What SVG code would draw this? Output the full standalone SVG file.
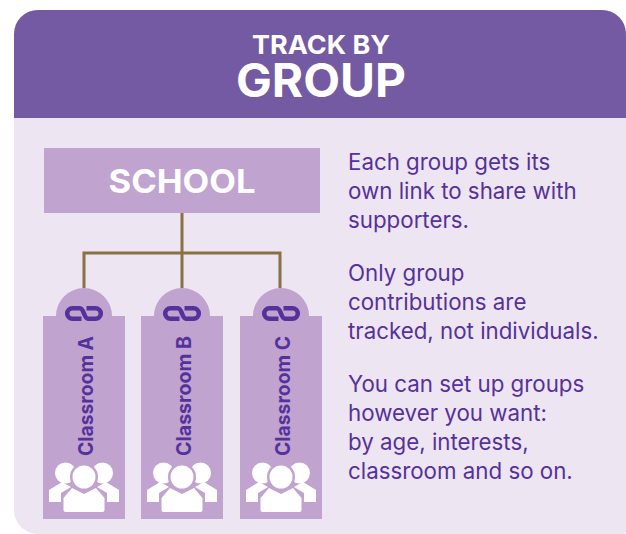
<svg xmlns="http://www.w3.org/2000/svg" width="626" height="534" viewBox="0 0 626 534">
<style>
.h{font-family:"Inter","Liberation Sans",sans-serif;font-weight:700;fill:#fff;text-anchor:middle}
.b{font-family:"Inter","Liberation Sans",sans-serif;font-size:22.300px;fill:#55329b}
.c{font-family:"Inter","Liberation Sans",sans-serif;font-weight:700;font-size:20px;fill:#55329b;text-anchor:middle}
.t{fill:#c0a3cf}
.w{fill:#fff}
.l{fill:none;stroke:#55329b;stroke-width:4.6}
.k{fill:none;stroke:#8a7145;stroke-width:3}
</style>
<defs>
<g id="link"><path class="l" d="M-2.500 5.300H-11.500A5.300 5.300 0 0 1 -11.500 -5.300H-4C0 -5.300 0 5.300 4 5.300H11.500A5.300 5.300 0 0 0 11.500 -5.300H2.500"/></g>
<g id="people">
<circle class="w" cx="-18.500" cy="-4" r="10.500"/><circle class="w" cx="18.500" cy="-4" r="10.500"/>
<path class="w" d="M-35 25V13L-22 5L-13 10L-23 16V25ZM35 25V13L22 5L13 10L23 16V25Z"/>
<circle class="t" cx="0" cy="0" r="14"/><circle class="w" cx="0" cy="0" r="11.500"/>
<path class="w" d="M-20.500 33V21L-12 11L0 17L12 11L20.500 21V33Q20.500 35 18.500 35H-18.500Q-20.500 35-20.500 33Z"/>
</g>
</defs>
<g id="panel"><path d="M14 510V34A24 24 0 0 1 38 10H602A24 24 0 0 1 626 34V531Q626 534 623 534H38A24 24 0 0 1 14 510Z" fill="#ede5f1"/>
<path d="M14 118V34A24 24 0 0 1 38 10H602A24 24 0 0 1 626 34V118Z" fill="#745aa2"/>
<text class="h" x="321" y="54" font-size="26" textLength="138" lengthAdjust="spacingAndGlyphs">TRACK BY</text>
<text class="h" x="321" y="97" font-size="46" textLength="170" lengthAdjust="spacingAndGlyphs">GROUP</text></g>
<g id="connectors"><path class="k" d="M182 213V288M84 288V253H280V288"/></g>
<g id="school"><rect class="t" x="44" y="148" width="276" height="65"/><text x="182" y="193" text-anchor="middle" font-family="Inter,sans-serif" font-weight="700" font-size="33" fill="#fff" textLength="147" lengthAdjust="spacingAndGlyphs">SCHOOL</text></g>
<g id="classroom-a"><path class="t" d="M43 316H56A28 28 0 0 1 112 316H125V519H43Z"/><use href="#link" x="84" y="313.500"/><text class="c" transform="translate(93 396) rotate(-90)" textLength="120" lengthAdjust="spacingAndGlyphs">Classroom A</text><use href="#people" x="84" y="477"/></g>
<g id="classroom-b"><path class="t" d="M141 316H154A28 28 0 0 1 210 316H223V519H141Z"/><use href="#link" x="182" y="313.500"/><text class="c" transform="translate(191 396) rotate(-90)" textLength="120" lengthAdjust="spacingAndGlyphs">Classroom B</text><use href="#people" x="182" y="477"/></g>
<g id="classroom-c"><path class="t" d="M240 316H253A28 28 0 0 1 309 316H322V519H240Z"/><use href="#link" x="281" y="313.500"/><text class="c" transform="translate(290 396) rotate(-90)" textLength="120" lengthAdjust="spacingAndGlyphs">Classroom C</text><use href="#people" x="281" y="477"/></g>
<g id="copy">
<text class="b" x="348" y="170">Each group gets its</text>
<text class="b" x="348" y="199">own link to share with</text>
<text class="b" x="348" y="228">supporters.</text>
<text class="b" x="348" y="281">Only group</text>
<text class="b" x="348" y="310">contributions are</text>
<text class="b" x="348" y="339">tracked, not individuals.</text>
<text class="b" x="348" y="392">You can set up groups</text>
<text class="b" x="348" y="421">however you want:</text>
<text class="b" x="348" y="450">by age, interests,</text>
<text class="b" x="348" y="479">classroom and so on.</text>
</g>
</svg>
